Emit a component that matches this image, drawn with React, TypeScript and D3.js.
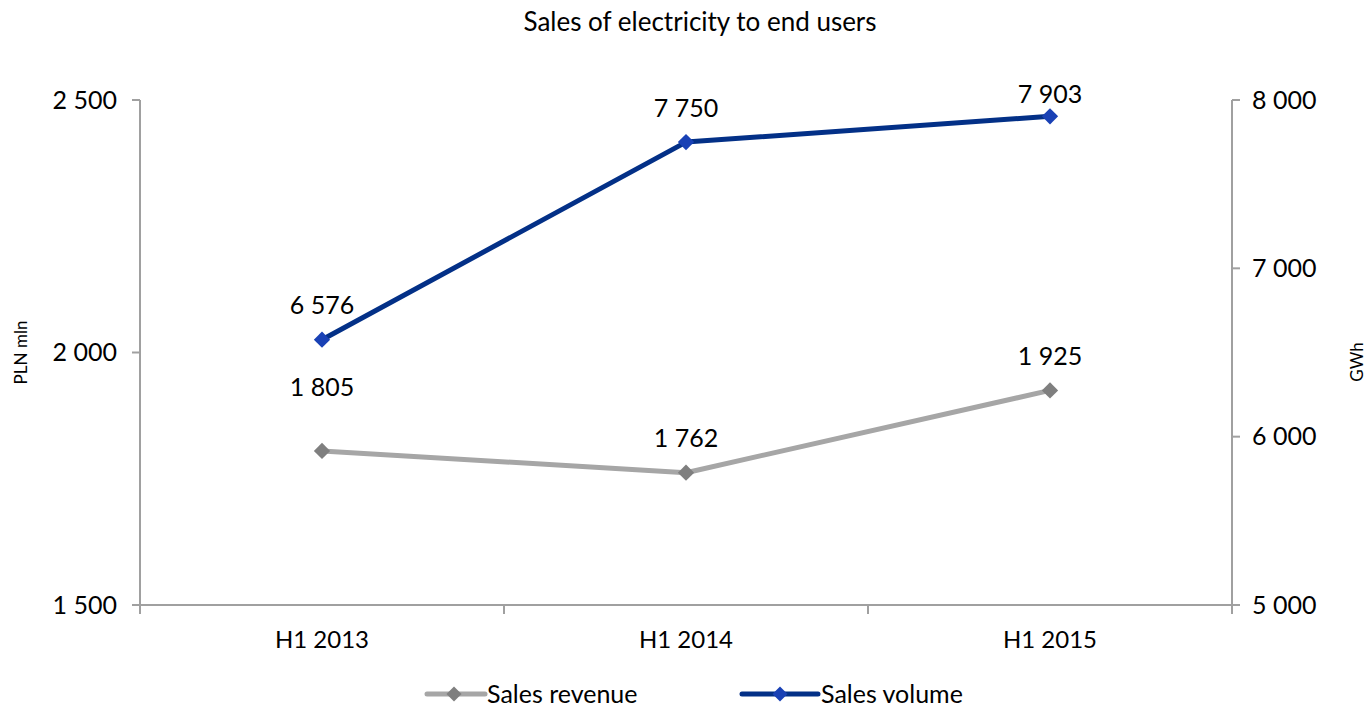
import { useMemo } from 'react'
import * as d3 from 'd3'

const WIDTH = 1367
const HEIGHT = 710
const MARGIN = { top: 100, right: 135, bottom: 105, left: 140 }
const FONT = 'Lato, "Open Sans", sans-serif'

const categories = ['H1 2013', 'H1 2014', 'H1 2015']
const salesRevenue = [1805, 1762, 1925] // PLN mln, left axis
const salesVolume = [6576, 7750, 7903] // GWh, right axis
const leftTicks = [1500, 2000, 2500]
const rightTicks = [5000, 6000, 7000, 8000]

// label nudges where Excel moved labels away from the default spot
const revenueLabelShift = [-30, 0, 0]
const volumeLabelShift = [0, 0, 12]

const fmt = (v: number) => d3.format(',')(v).replace(/,/g, ' ')

function Diamond({ x, y, size, fill }: { x: number; y: number; size: number; fill: string }) {
  const path = d3.symbol(d3.symbolDiamond2, size * size)()
  return <path d={path || ''} transform={`translate(${x},${y})`} fill={fill} />
}

export default function App() {
  const innerWidth = WIDTH - MARGIN.left - MARGIN.right
  const innerHeight = HEIGHT - MARGIN.top - MARGIN.bottom

  const x = useMemo(
    () => d3.scaleBand<string>().domain(categories).range([0, innerWidth]).padding(0),
    [innerWidth]
  )
  const yLeft = d3.scaleLinear().domain([1500, 2500]).range([innerHeight, 0])
  const yRight = d3.scaleLinear().domain([5000, 8000]).range([innerHeight, 0])

  const cx = (c: string) => (x(c) || 0) + x.bandwidth() / 2

  const lineLeft = d3
    .line<number>()
    .x((_, i) => cx(categories[i]))
    .y((d) => yLeft(d))
  const lineRight = d3
    .line<number>()
    .x((_, i) => cx(categories[i]))
    .y((d) => yRight(d))

  const axisColor = '#a0a0a0'
  const gray = '#a6a6a6'
  const grayMarker = '#7f7f7f'
  const navy = '#033087'
  const blueMarker = '#1941b5'

  const boundaries = [0, ...categories.map((c) => (x(c) || 0) + x.bandwidth())]

  return (
    <svg width={WIDTH} height={HEIGHT} style={{ display: 'block', position: 'absolute', left: 0, top: 0 }} fontFamily={FONT}>
      <rect width={WIDTH} height={HEIGHT} fill="#fff" />
      <text x={700} y={31} textAnchor="middle" fontSize={26} fill="#000">
        Sales of electricity to end users
      </text>

      <g transform={`translate(${MARGIN.left},${MARGIN.top})`}>
        {/* left axis */}
        <line x1={0} x2={0} y1={0} y2={innerHeight} stroke={axisColor} strokeWidth={2} />
        {leftTicks.map((t) => (
          <g key={t}>
            <line x1={-8} x2={0} y1={yLeft(t)} y2={yLeft(t)} stroke={axisColor} strokeWidth={2} />
            <text x={-23} y={yLeft(t)} dy="0.35em" textAnchor="end" fontSize={25} fill="#000">
              {fmt(t)}
            </text>
          </g>
        ))}

        {/* right axis */}
        <line x1={innerWidth} x2={innerWidth} y1={0} y2={innerHeight} stroke={axisColor} strokeWidth={2} />
        {rightTicks.map((t) => (
          <g key={t}>
            <line x1={innerWidth} x2={innerWidth + 8} y1={yRight(t)} y2={yRight(t)} stroke={axisColor} strokeWidth={2} />
            <text x={innerWidth + 20} y={yRight(t)} dy="0.35em" textAnchor="start" fontSize={25} fill="#000">
              {fmt(t)}
            </text>
          </g>
        ))}

        {/* x axis */}
        <line x1={-8} x2={innerWidth + 8} y1={innerHeight} y2={innerHeight} stroke={axisColor} strokeWidth={2} />
        {boundaries.map((b, i) => (
          <line key={i} x1={b} x2={b} y1={innerHeight} y2={innerHeight + 9} stroke={axisColor} strokeWidth={2} />
        ))}
        {categories.map((c) => (
          <text key={c} x={cx(c)} y={innerHeight + 35} dy="0.35em" textAnchor="middle" fontSize={24} fill="#000">
            {c}
          </text>
        ))}

        {/* series */}
        <path d={lineLeft(salesRevenue) || ''} fill="none" stroke={gray} strokeWidth={5} strokeLinejoin="round" />
        <path d={lineRight(salesVolume) || ''} fill="none" stroke={navy} strokeWidth={5} strokeLinejoin="round" />

        {salesRevenue.map((v, i) => (
          <g key={`r${i}`}>
            <Diamond x={cx(categories[i])} y={yLeft(v)} size={13} fill={grayMarker} />
            <text
              x={cx(categories[i])}
              y={yLeft(v) - 34 + revenueLabelShift[i]}
              dy="0.35em"
              textAnchor="middle"
              fontSize={25}
              fill="#000"
            >
              {fmt(v)}
            </text>
          </g>
        ))}
        {salesVolume.map((v, i) => (
          <g key={`v${i}`}>
            <Diamond x={cx(categories[i])} y={yRight(v)} size={13} fill={blueMarker} />
            <text
              x={cx(categories[i])}
              y={yRight(v) - 34 + volumeLabelShift[i]}
              dy="0.35em"
              textAnchor="middle"
              fontSize={25}
              fill="#000"
            >
              {fmt(v)}
            </text>
          </g>
        ))}
      </g>

      {/* axis titles */}
      <text transform={`translate(27,${MARGIN.top + yLeft(2000)}) rotate(-90)`} textAnchor="middle" fontSize={17} fill="#000">
        PLN mln
      </text>
      <text transform={`translate(1363,362) rotate(-90)`} textAnchor="middle" fontSize={17} fill="#000">
        GWh
      </text>

      {/* legend */}
      <g transform="translate(427,694)">
        <line x1={0} x2={58} y1={0} y2={0} stroke={gray} strokeWidth={5} strokeLinecap="round" />
        <Diamond x={27} y={0} size={12} fill={grayMarker} />
        <text x={60} y={0} dy="0.35em" fontSize={25} fill="#000">Sales revenue</text>
      </g>
      <g transform="translate(742,694)">
        <line x1={0} x2={76} y1={0} y2={0} stroke={navy} strokeWidth={5} strokeLinecap="round" />
        <Diamond x={38} y={0} size={12} fill={blueMarker} />
        <text x={79} y={0} dy="0.35em" fontSize={25} fill="#000">Sales volume</text>
      </g>
    </svg>
  )
}
